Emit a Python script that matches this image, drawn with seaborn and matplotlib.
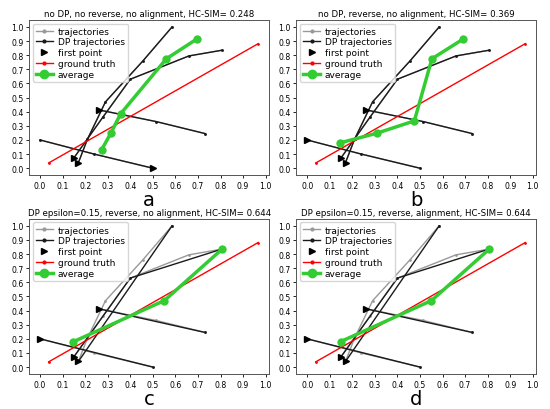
import matplotlib
matplotlib.use('Agg')
import matplotlib.pyplot as plt
from matplotlib.lines import Line2D
import seaborn as sns
import numpy as np

# trajectories (original points)
traj1_x = [0.17, 0.21, 0.29, 0.455, 0.585]
traj1_y = [0.04, 0.205, 0.47, 0.758, 1.00]
traj2_x = [0.15, 0.28, 0.40, 0.66, 0.805]
traj2_y = [0.073, 0.365, 0.63, 0.795, 0.835]
traj3_x = [0.50, 0.24, 0.0]
traj3_y = [0.0, 0.10, 0.20]
traj4_x = [0.26, 0.515, 0.732]
traj4_y = [0.413, 0.33, 0.245]

# DP simplified trajectories (epsilon=0.15)
dp1_x = [0.17, 0.585]
dp1_y = [0.04, 1.00]
dp2_x = [0.15, 0.40, 0.805]
dp2_y = [0.073, 0.63, 0.835]
dp3_x = [0.50, 0.0]
dp3_y = [0.0, 0.20]
dp4_x = [0.26, 0.732]
dp4_y = [0.413, 0.245]

# ground truth
gt_x = [0.038, 0.967]
gt_y = [0.037, 0.882]

# averages per panel
avg_a_x = [0.273, 0.314, 0.357, 0.560, 0.697]
avg_a_y = [0.131, 0.249, 0.385, 0.775, 0.917]
avg_b_x = [0.147, 0.309, 0.475, 0.553, 0.692]
avg_b_y = [0.180, 0.248, 0.335, 0.775, 0.915]
avg_c_x = [0.148, 0.551, 0.806]
avg_c_y = [0.180, 0.471, 0.834]

titles = ['no DP, no reverse, no alignment, HC-SIM= 0.248',
          'no DP, reverse, no alignment, HC-SIM= 0.369',
          'DP epsilon=0.15, reverse, no alignment, HC-SIM= 0.644',
          'DP epsilon=0.15, reverse, alignment, HC-SIM= 0.644']
letters = ['a', 'b', 'c', 'd']

trajs = [(traj1_x, traj1_y), (traj2_x, traj2_y), (traj3_x, traj3_y), (traj4_x, traj4_y)]
dps = [(dp1_x, dp1_y), (dp2_x, dp2_y), (dp3_x, dp3_y), (dp4_x, dp4_y)]


def rev(t):
    return (t[0][::-1], t[1][::-1])


panels = [
    dict(trajs=trajs, dps=trajs, avg=(avg_a_x, avg_a_y)),
    dict(trajs=[trajs[0], trajs[1], rev(trajs[2]), trajs[3]],
         dps=[trajs[0], trajs[1], rev(trajs[2]), trajs[3]], avg=(avg_b_x, avg_b_y)),
    dict(trajs=[trajs[0], trajs[1], rev(trajs[2]), trajs[3]],
         dps=[dps[0], dps[1], rev(dps[2]), dps[3]], avg=(avg_c_x, avg_c_y)),
    dict(trajs=[trajs[0], trajs[1], rev(trajs[2]), trajs[3]],
         dps=[dps[0], dps[1], rev(dps[2]), dps[3]], avg=(avg_c_x, avg_c_y)),
]

green = '#33cc33'

fig, axes = plt.subplots(2, 2, figsize=(5.5, 4.1), dpi=100)
fig.subplots_adjust(left=0.053, right=0.975, top=0.949, bottom=0.085,
                    wspace=0.113, hspace=0.28)

for ax, p, title, letter in zip(axes.flat, panels, titles, letters):
    for tx, ty in p['trajs']:
        sns.lineplot(x=tx, y=ty, sort=False, estimator=None, ax=ax, color='#999999',
                     lw=1, marker='.', markersize=4, markeredgewidth=0)
    for tx, ty in p['dps']:
        sns.lineplot(x=tx, y=ty, sort=False, estimator=None, ax=ax, color='#1a1a1a',
                     lw=1, marker='.', markersize=4, markeredgewidth=0)
    for tx, ty in p['trajs']:
        ax.plot(tx[0], ty[0], linestyle='none', marker='>', color='black', markersize=5)
    sns.lineplot(x=gt_x, y=gt_y, sort=False, estimator=None, ax=ax, color='red',
                 lw=1, marker='.', markersize=4, markeredgewidth=0)
    sns.lineplot(x=p['avg'][0], y=p['avg'][1], sort=False, estimator=None, ax=ax,
                 color=green, lw=2.5, marker='o', markersize=6, markeredgewidth=0)

    ax.set_xticks(np.arange(0, 1.01, 0.1))
    ax.set_yticks(np.arange(0, 1.01, 0.1))
    ax.tick_params(labelsize=5.6, length=2.5, width=0.6, pad=1.5)
    for s in ax.spines.values():
        s.set_color('#555555')
        s.set_linewidth(0.7)
    ax.set_title(title, fontsize=6.2, pad=3)
    ax.set_xlabel(letter, fontsize=14, labelpad=0)
    ax.set_ylabel('')

    handles = [
        Line2D([], [], color='#999999', lw=1, marker='.', markersize=4),
        Line2D([], [], color='#1a1a1a', lw=1, marker='.', markersize=4),
        Line2D([], [], color='black', linestyle='none', marker='>', markersize=5),
        Line2D([], [], color='red', lw=1, marker='.', markersize=4),
        Line2D([], [], color=green, lw=2.5, marker='o', markersize=6),
    ]
    ax.legend(handles, ['trajectories', 'DP trajectories', 'first point', 'ground truth', 'average'],
              loc='upper left', fontsize=6.5, handlelength=1.9, handletextpad=0.5,
              borderpad=0.35, labelspacing=0.2, borderaxespad=0.4, framealpha=0.8)

fig.savefig('out.png', dpi=100)
